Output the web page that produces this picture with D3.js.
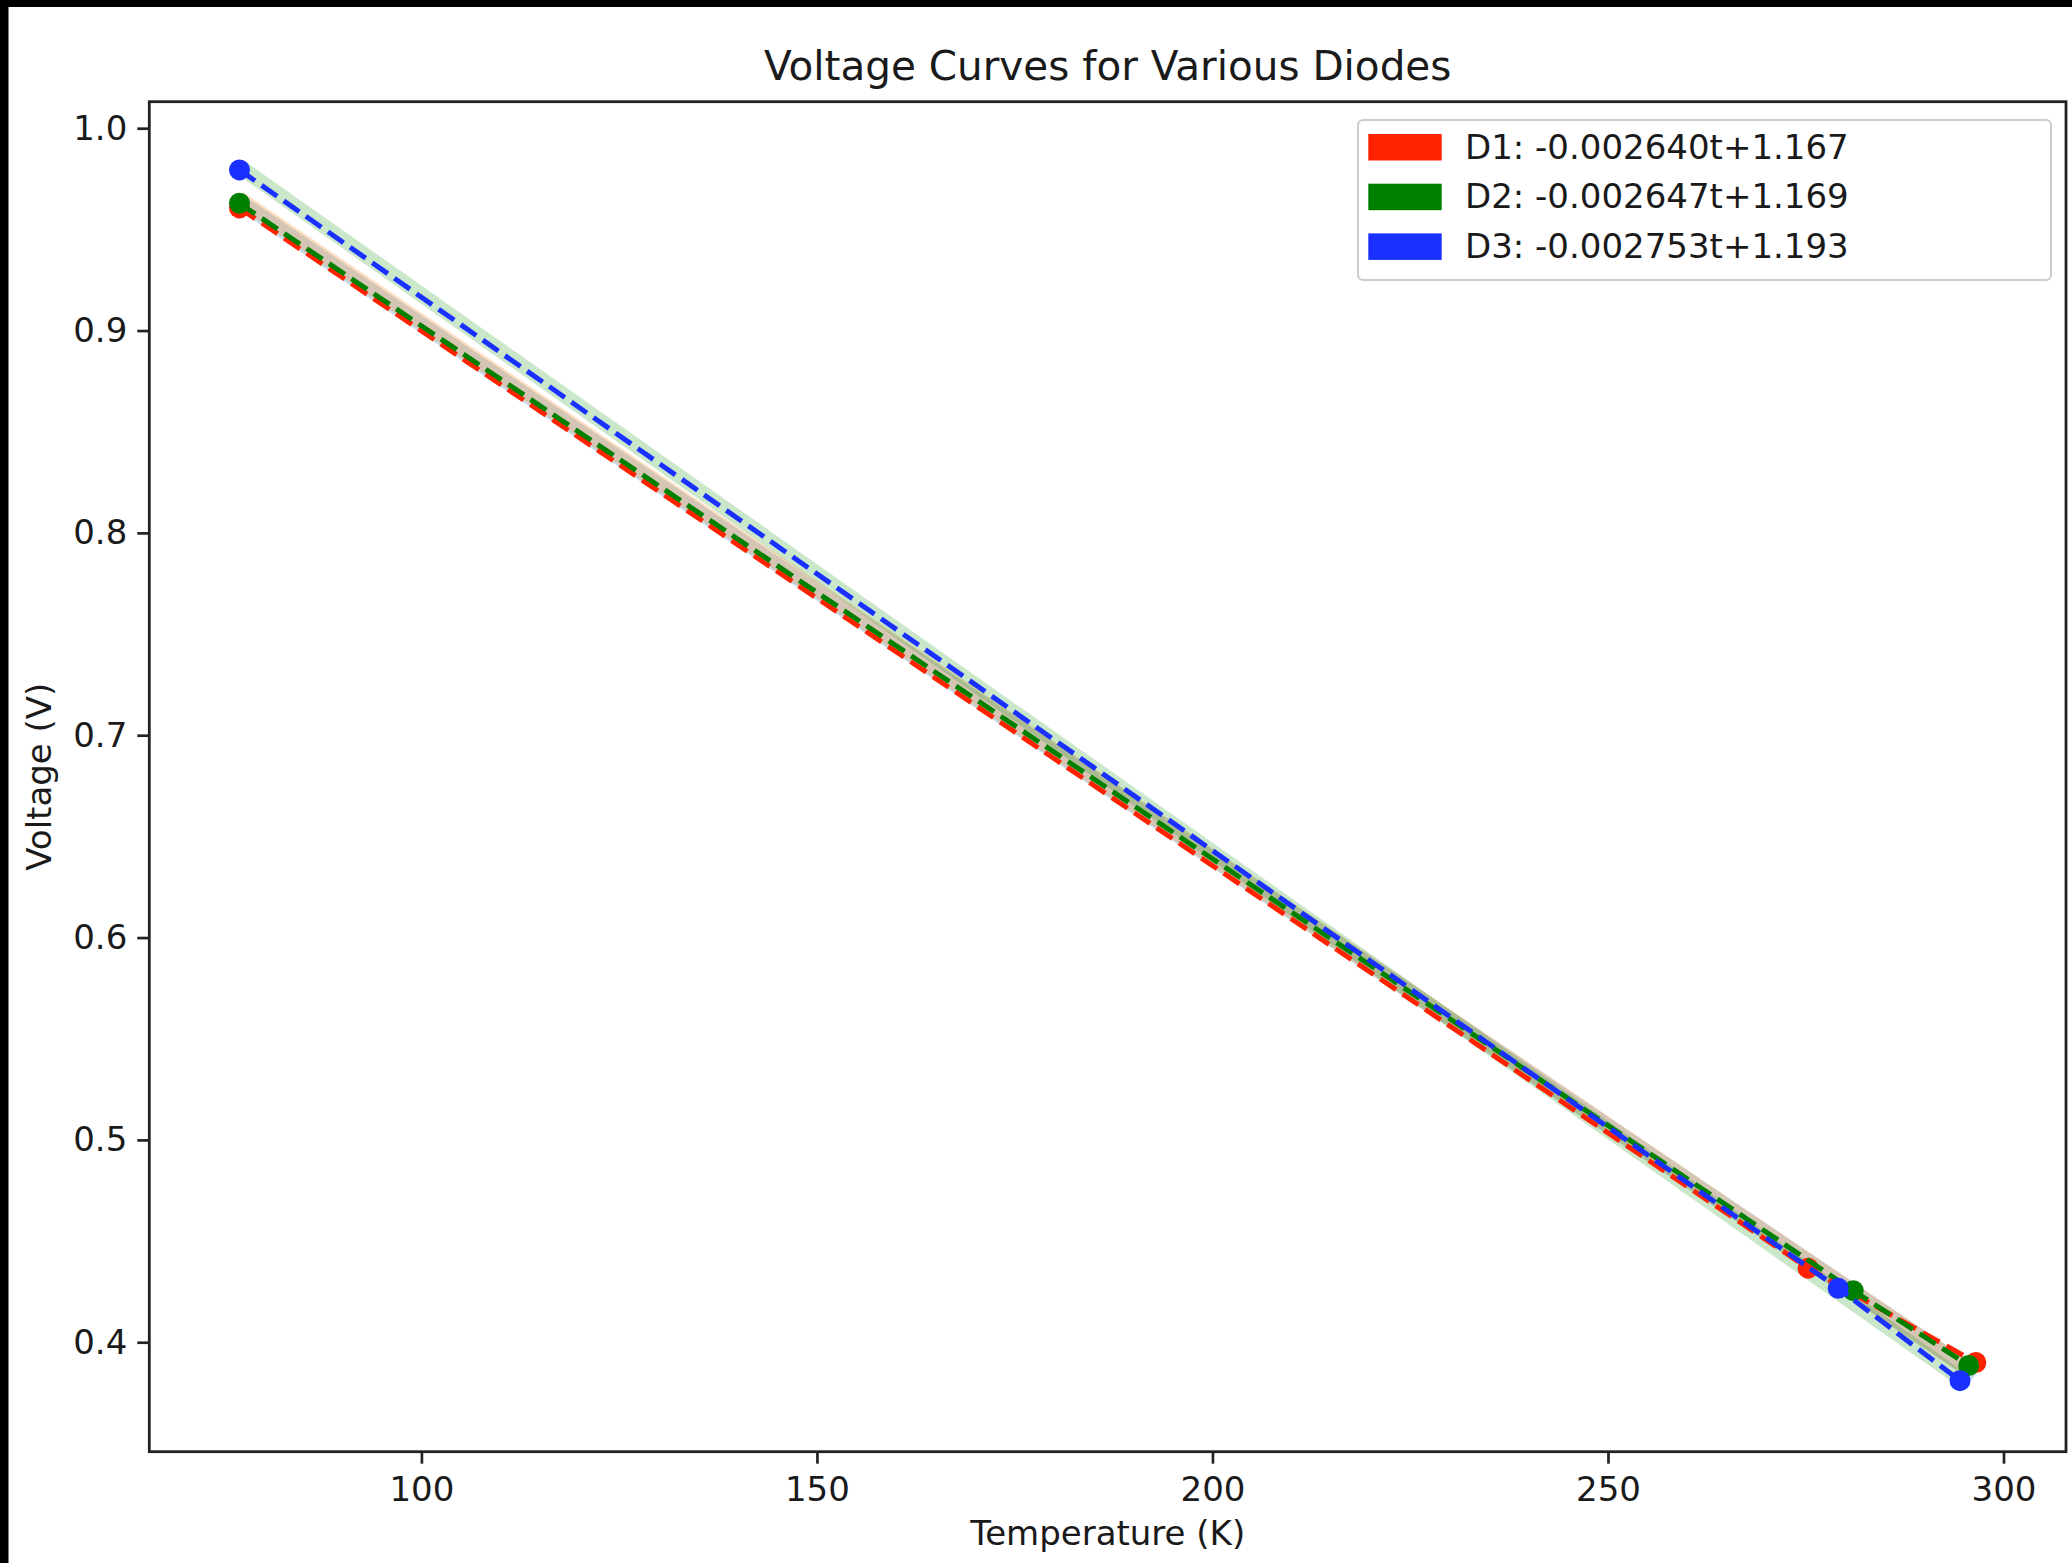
<!DOCTYPE html>
<html>
<head>
<meta charset="utf-8">
<script src="https://cdn.jsdelivr.net/npm/d3@7"></script>
<style>
    html, body { margin: 0; padding: 0; background: #fff; }
    svg { display: block; font-family: "DejaVu Sans", sans-serif; }
</style>
</head>
<body>
<div id="chart"></div>
<script>
// figure size
const width = 2072;
const height = 1563;

// plot area
const margin = { left: 149.3, right: 2066, top: 101.7, bottom: 1451.7 };

// data
const diodes = ["D1", "D2", "D3"];
const colors = ["#ff2200", "#008000", "#1a30ff"];
const fitColors = ["#1f77b4", "#ff7f0e", "#2ca02c"];
const temps = [
    [77, 275.3, 296.5],
    [77, 281.0, 295.6],
    [77, 279.1, 294.5]
];
const volts = [
    [0.9606, 0.4366, 0.3900],
    [0.9629, 0.4255, 0.3885],
    [0.9794, 0.4267, 0.3810]
];
// linear fits shown in the legend
const slopes = [-0.002640, -0.002647, -0.002753];
const intercepts = [1.167, 1.169, 1.193];

const xTicks = [100, 150, 200, 250, 300];
const yTicks = [0.4, 0.5, 0.6, 0.7, 0.8, 0.9, 1.0];
const xDomain = [65.6, 307.9];
const yDomain = [0.3459, 1.0131];

const svg = d3.select("#chart")
    .append("svg")
    .attr("width", width)
    .attr("height", height);

svg.append("rect")
    .attr("width", width)
    .attr("height", height)
    .attr("fill", "#fff");

// black strips along the top and left edge of the screenshot
svg.append("rect").attr("x", 0).attr("y", 0).attr("width", 8.5).attr("height", height).attr("fill", "#000");
svg.append("rect").attr("x", 0).attr("y", 0).attr("width", width).attr("height", 7).attr("fill", "#000");

const x = d3.scaleLinear().domain(xDomain).range([margin.left, margin.right]);
const y = d3.scaleLinear().domain(yDomain).range([margin.bottom, margin.top]);

const line = d3.line()
    .x(d => x(d[0]))
    .y(d => y(d[1]));

// fitted lines as wide translucent bands
const bands = svg.append("g").attr("class", "fits");
diodes.forEach((name, i) => {
    const tMin = d3.min(temps[i]);
    const tMax = d3.max(temps[i]);
    const pts = [tMin, tMax].map(t => [t, slopes[i] * t + intercepts[i]]);
    bands.append("path")
        .attr("d", line(pts))
        .attr("fill", "none")
        .attr("stroke", fitColors[i])
        .attr("stroke-opacity", 0.25)
        .attr("stroke-width", 15);
});

// measured points with dashed lines
const series = svg.append("g").attr("class", "series");
diodes.forEach((name, i) => {
    const pts = temps[i].map((t, j) => [t, volts[i][j]]);
    series.append("path")
        .attr("d", line(pts))
        .attr("fill", "none")
        .attr("stroke", colors[i])
        .attr("stroke-width", 5)
        .attr("stroke-dasharray", "19,8");
    series.selectAll(null)
        .data(pts)
        .enter()
        .append("circle")
        .attr("cx", d => x(d[0]))
        .attr("cy", d => y(d[1]))
        .attr("r", 10.5)
        .attr("fill", colors[i]);
});

// axes
const xAxis = d3.axisBottom(x)
    .tickValues(xTicks)
    .tickFormat(d3.format("d"))
    .tickSize(12)
    .tickSizeOuter(0)
    .tickPadding(13);

const yAxis = d3.axisLeft(y)
    .tickValues(yTicks)
    .tickFormat(d3.format(".1f"))
    .tickSize(12)
    .tickSizeOuter(0)
    .tickPadding(10);

const gx = svg.append("g")
    .attr("transform", `translate(0,${margin.bottom})`)
    .call(xAxis);
const gy = svg.append("g")
    .attr("transform", `translate(${margin.left},0)`)
    .call(yAxis);

[gx, gy].forEach(g => {
    g.select(".domain").remove();
    g.selectAll(".tick line").attr("stroke", "#222").attr("stroke-width", 2.7);
    g.selectAll(".tick text")
        .attr("fill", "#1a1a1a")
        .style("font-family", "DejaVu Sans, sans-serif")
        .style("font-size", "34px");
});

// frame
svg.append("rect")
    .attr("x", margin.left)
    .attr("y", margin.top)
    .attr("width", margin.right - margin.left)
    .attr("height", margin.bottom - margin.top)
    .attr("fill", "none")
    .attr("stroke", "#222")
    .attr("stroke-width", 2.8);

// title and labels
const cx = (margin.left + margin.right) / 2;
svg.append("text")
    .attr("x", cx)
    .attr("y", 80)
    .attr("text-anchor", "middle")
    .style("font-size", "40.5px")
    .attr("fill", "#1a1a1a")
    .text("Voltage Curves for Various Diodes");

svg.append("text")
    .attr("x", cx)
    .attr("y", 1545)
    .attr("text-anchor", "middle")
    .style("font-size", "34px")
    .attr("fill", "#1a1a1a")
    .text("Temperature (K)");

svg.append("text")
    .attr("transform", `translate(51,${(margin.top + margin.bottom) / 2}) rotate(-90)`)
    .attr("text-anchor", "middle")
    .style("font-size", "34px")
    .attr("fill", "#1a1a1a")
    .text("Voltage (V)");

// legend
const legend = svg.append("g").attr("class", "legend");
legend.append("rect")
    .attr("x", 1358)
    .attr("y", 120)
    .attr("width", 693)
    .attr("height", 160)
    .attr("rx", 5)
    .attr("fill", "#fff")
    .attr("fill-opacity", 0.8)
    .attr("stroke", "#cccccc")
    .attr("stroke-width", 2);

diodes.forEach((name, i) => {
    const rowY = 134 + i * 49.7;
    legend.append("rect")
        .attr("x", 1368.3)
        .attr("y", rowY)
        .attr("width", 73.4)
        .attr("height", 26.5)
        .attr("fill", colors[i]);
    legend.append("text")
        .attr("x", 1465)
        .attr("y", rowY + 24.5)
        .style("font-size", "34px")
        .attr("fill", "#1a1a1a")
        .text(`${name}: ${slopes[i].toFixed(6)}t+${intercepts[i].toFixed(3)}`);
});
</script>
</body>
</html>
